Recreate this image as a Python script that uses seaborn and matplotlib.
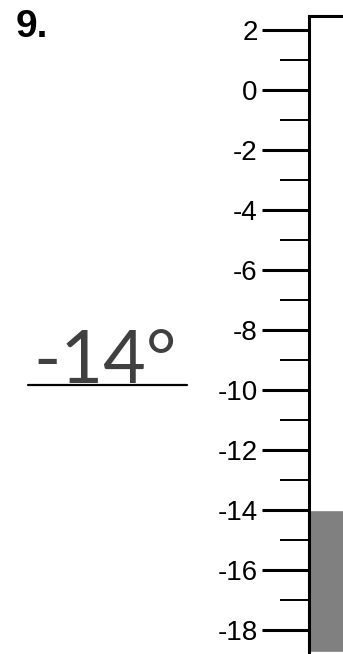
import matplotlib.pyplot as plt
import seaborn as sns
from matplotlib.lines import Line2D
from matplotlib.ticker import MultipleLocator

# Thermometer reading question: scale from -18 to 2, answer written at the left
problem_label = '9.'
reading = -14
answer_text = '-14°'
scale_min, scale_max = -18.73, 2.47
major_step, minor_step = 2, 1

sns.set_style('white')
plt.rcParams['font.family'] = ['Liberation Sans', 'DejaVu Sans']
plt.rcParams['axes.unicode_minus'] = False
plt.rcParams['text.color'] = 'black'
plt.rcParams['ytick.color'] = 'black'

fig = plt.figure(figsize=(3.43, 6.54), dpi=100)
ax = fig.add_axes([309 / 343, 2 / 654, 0.5, 636 / 654])

# filled column from the bottom of the scale up to the reading
sns.barplot(x=['t'], y=[reading - scale_min], bottom=scale_min, color='#808080',
            saturation=1, width=0.8, ax=ax)

ax.set_ylim(scale_min, scale_max)
ax.set_xlim(-0.4, 1.0)
ax.set_xlabel('')
ax.set_ylabel('')
ax.set_xticks([])
ax.yaxis.set_major_locator(MultipleLocator(major_step))
ax.yaxis.set_minor_locator(MultipleLocator(minor_step))
ax.tick_params(axis='y', which='major', length=34, width=2.2, color='black',
               labelcolor='black', labelsize=20, pad=3, direction='out', left=True)
ax.tick_params(axis='y', which='minor', length=21, width=1.4, color='black', left=True)
for side in ['bottom', 'right']:
    ax.spines[side].set_visible(False)
for side in ['left', 'top']:
    ax.spines[side].set_visible(True)
    ax.spines[side].set_color('black')
    ax.spines[side].set_linewidth(2.2)

fig.text(16 / 343, 1 - 37 / 654, problem_label, fontsize=28, fontweight='bold',
         color='black', ha='left', va='baseline')

fig.text(105 / 343, 1 - 383 / 654, answer_text, fontsize=53, fontweight='normal',
         family=['Lato', 'DejaVu Sans'], color='#404040', ha='center', va='baseline')
fig.add_artist(Line2D([28 / 343, 187 / 343], [1 - 385 / 654, 1 - 385 / 654],
                      transform=fig.transFigure, color='black', linewidth=1.6))

fig.savefig('out.png', dpi=100)
